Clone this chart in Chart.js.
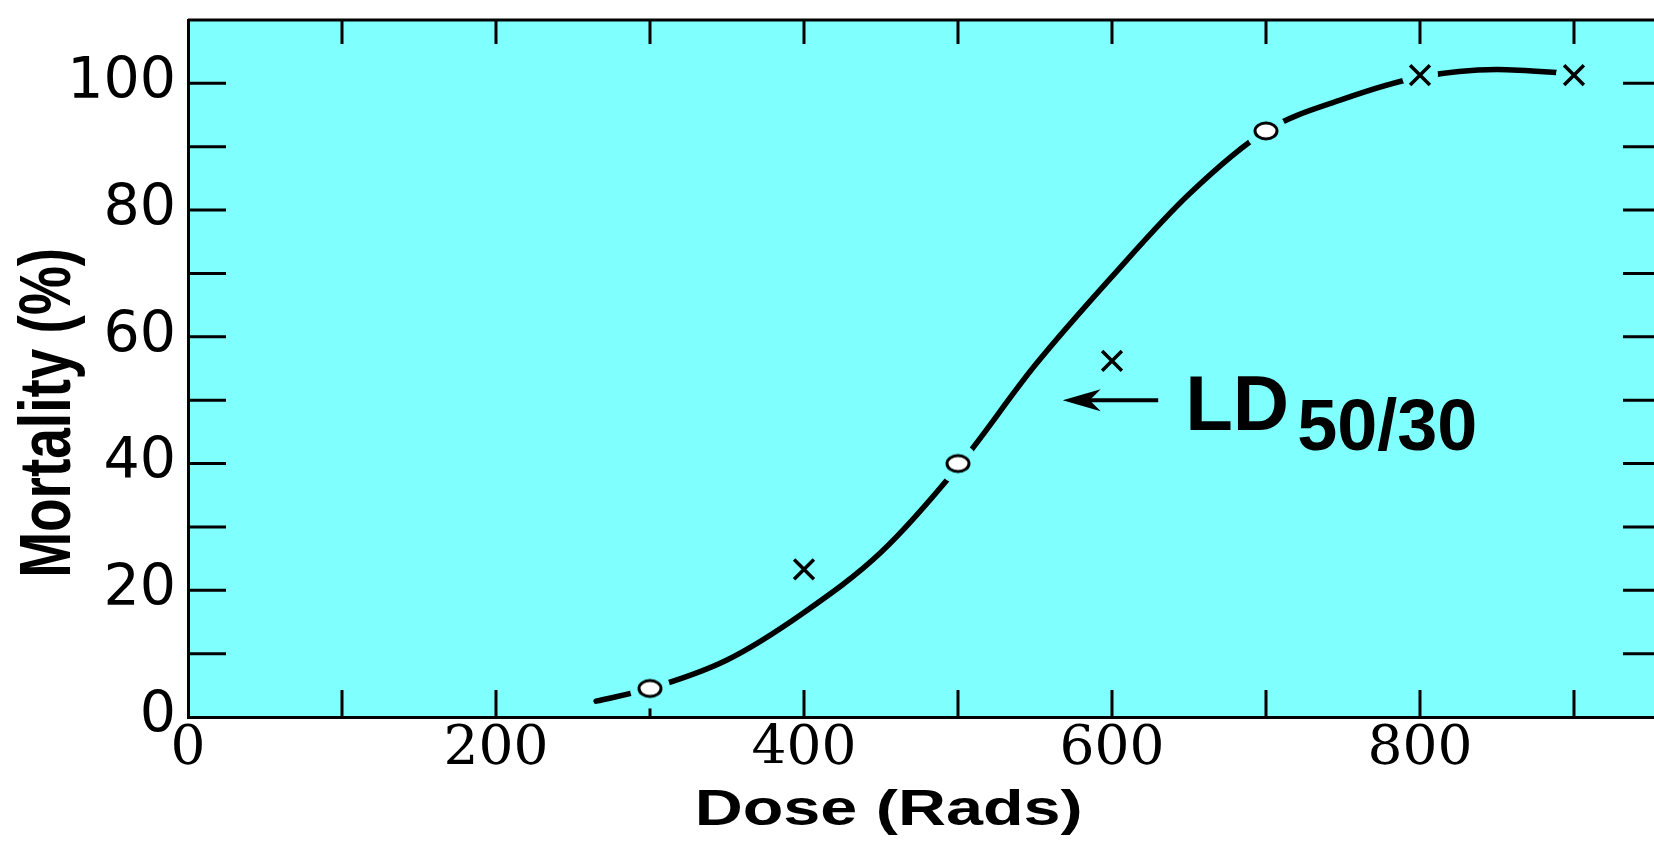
<!DOCTYPE html>
<html>
<head>
<meta charset="utf-8">
<title>Mortality vs Dose</title>
<script src="https://cdn.jsdelivr.net/npm/chart.js@4.4.1/dist/chart.umd.min.js"></script>
<style>
  html, body { margin: 0; padding: 0; background: #fff; width: 1654px; height: 842px; overflow: hidden; }
  canvas { display: block; }
</style>
</head>
<body>
<canvas id="chart" width="1700" height="842" style="width:1700px;height:842px"></canvas>
<script>
// Fitted dose-response curve (dose in rads, mortality in %)
const curveDose = [265, 300, 350, 400, 450, 500, 550, 600, 650, 700, 750, 800, 850, 900];
const curveMortality = [2.5, 4.5, 9, 16.5, 26, 39.5, 55.5, 69.5, 82.5, 92.5, 97.5, 101, 102.2, 101.5];

// Observed groups: open circles and crosses
const circleDose = [300, 500, 700];
const circleMortality = [4.5, 40, 92.5];
const crossDose = [400, 600, 800, 900];
const crossMortality = [23.3, 56.2, 101.3, 101.3];

// Axis setup
const DOSE_MAX = 956.5;
const MORTALITY_MAX = 110;
const doseLabelEvery = 200;
const mortalityLabelEvery = 20;

const xTitle = 'Dose (Rads)';
const yTitle = 'Mortality (%)';
const ldMain = 'LD';
const ldSub = '50/30';
const LD_ARROW = { tail: 630, tip: 568, level: 50 };

const PLOT_BG = '#80ffff';
const INK = '#000';

const toPoints = (xs, ys) => xs.map((v, i) => ({ x: v, y: ys[i] }));

// open ellipse marker used for the circle group
function ellipseMarker() {
  const c = document.createElement('canvas');
  c.width = 30; c.height = 24;
  const g = c.getContext('2d');
  g.beginPath();
  g.ellipse(15, 12, 11, 8, 0, 0, Math.PI * 2);
  g.fillStyle = '#fff';
  g.fill();
  g.lineWidth = 3;
  g.strokeStyle = INK;
  g.stroke();
  return c;
}

const plotBackground = {
  id: 'plotBackground',
  beforeDraw(chart) {
    const { ctx, chartArea: a } = chart;
    ctx.save();
    ctx.fillStyle = '#fff';
    ctx.fillRect(0, 0, chart.width, chart.height);
    ctx.fillStyle = PLOT_BG;
    ctx.fillRect(a.left, a.top, a.right - a.left, a.bottom - a.top);
    ctx.restore();
  }
};

// inward tick marks on all four sides, plus the top and right edges
const frameTicks = {
  id: 'frameTicks',
  beforeDatasetsDraw(chart) {
    const { ctx, chartArea: a, scales: { x, y } } = chart;
    ctx.save();
    ctx.strokeStyle = INK;
    ctx.lineWidth = 3;
    ctx.beginPath();
    ctx.moveTo(a.left, a.top);
    ctx.lineTo(a.right, a.top);
    ctx.lineTo(a.right, a.bottom);
    x.ticks.forEach(t => {
      if (t.value <= x.min || t.value >= x.max) return;
      const px = x.getPixelForValue(t.value);
      ctx.moveTo(px, a.bottom); ctx.lineTo(px, a.bottom - 27);
      ctx.moveTo(px, a.top); ctx.lineTo(px, a.top + 24);
    });
    y.ticks.forEach(t => {
      if (t.value <= y.min || t.value >= y.max) return;
      const py = y.getPixelForValue(t.value);
      ctx.moveTo(a.left, py); ctx.lineTo(a.left + 38, py);
      ctx.moveTo(a.right, py); ctx.lineTo(a.right - 38, py);
    });
    ctx.stroke();
    ctx.restore();
  }
};

const annotations = {
  id: 'annotations',
  afterDraw(chart) {
    const { ctx, scales: { x, y } } = chart;
    ctx.save();
    ctx.fillStyle = INK;
    ctx.strokeStyle = INK;

    // arrow pointing at the LD50 level
    const tipX = x.getPixelForValue(LD_ARROW.tip);
    const tailX = x.getPixelForValue(LD_ARROW.tail);
    const ay = y.getPixelForValue(LD_ARROW.level);
    ctx.lineWidth = 4;
    ctx.beginPath();
    ctx.moveTo(tailX, ay);
    ctx.lineTo(tipX + 12, ay);
    ctx.stroke();
    ctx.beginPath();
    ctx.moveTo(tipX, ay);
    ctx.lineTo(tipX + 38, ay - 11);
    ctx.lineTo(tipX + 27, ay);
    ctx.lineTo(tipX + 38, ay + 11);
    ctx.closePath();
    ctx.fill();

    // LD 50/30 label
    ctx.textAlign = 'left';
    ctx.textBaseline = 'alphabetic';
    ctx.font = 'bold 78px "Liberation Sans", Arial, sans-serif';
    const lx = tailX + 27;
    ctx.fillText(ldMain, lx, ay + 30);
    const w = ctx.measureText(ldMain).width;
    ctx.font = 'bold 72px "Liberation Sans", Arial, sans-serif';
    ctx.fillText(ldSub, lx + w + 8, ay + 50);

    // axis titles, widened
    ctx.textAlign = 'center';
    ctx.font = 'bold 50px "Liberation Sans", Arial, sans-serif';
    ctx.save();
    ctx.translate(x.getPixelForValue(455), x.bottom - 17);
    ctx.scale(1.33, 1);
    ctx.fillText(xTitle, 0, 0);
    ctx.restore();

    ctx.font = 'bold 55px "Liberation Sans", Arial, sans-serif';
    ctx.save();
    ctx.translate(70, y.getPixelForValue(48));
    ctx.scale(1.33, 1);
    ctx.rotate(-Math.PI / 2);
    ctx.fillText(yTitle, 0, 0);
    ctx.restore();

    ctx.restore();
  }
};

const circles = toPoints(circleDose, circleMortality);
const crosses = toPoints(crossDose, crossMortality);

new Chart(document.getElementById('chart'), {
  type: 'scatter',
  data: {
    datasets: [
      {
        label: 'circles',
        data: circles,
        pointStyle: ellipseMarker(),
        pointRadius: 12,
        order: 0
      },
      {
        label: 'crosses',
        data: crosses,
        pointStyle: 'crossRot',
        pointRadius: 14,
        borderColor: INK,
        borderWidth: 3.5,
        order: 0
      },
      {
        // background-coloured gaps where the curve meets a marker
        label: 'circle gaps',
        data: circles,
        pointStyle: 'circle',
        pointRadius: 20,
        backgroundColor: PLOT_BG,
        borderWidth: 0,
        order: 1
      },
      {
        label: 'cross gaps',
        data: crosses,
        pointStyle: 'circle',
        pointRadius: 18,
        backgroundColor: PLOT_BG,
        borderWidth: 0,
        order: 1
      },
      {
        label: 'fit',
        type: 'line',
        data: toPoints(curveDose, curveMortality),
        borderColor: INK,
        borderWidth: 5.5,
        pointRadius: 0,
        fill: false,
        cubicInterpolationMode: 'monotone',
        borderCapStyle: 'round',
        order: 2
      }
    ]
  },
  options: {
    responsive: false,
    animation: false,
    devicePixelRatio: 1,
    events: [],
    layout: { padding: { top: 13, right: 39, left: 0, bottom: 0 } },
    plugins: {
      legend: { display: false },
      tooltip: { enabled: false }
    },
    scales: {
      x: {
        type: 'linear',
        position: 'bottom',
        min: 0,
        max: DOSE_MAX,
        grid: { drawOnChartArea: false, drawTicks: false },
        border: { display: true, color: INK, width: 3 },
        ticks: {
          stepSize: 100,
          includeBounds: false,
          autoSkip: false,
          maxRotation: 0,
          padding: 0,
          color: INK,
          font: { family: '"DejaVu Serif", "Times New Roman", serif', size: 55 },
          callback: v => (v % doseLabelEvery === 0 ? String(v) : '')
        },
        afterFit(s) { s.height = 125; s.paddingLeft = 0; s.paddingRight = 0; }
      },
      y: {
        type: 'linear',
        position: 'left',
        min: 0,
        max: MORTALITY_MAX,
        grid: { drawOnChartArea: false, drawTicks: false },
        border: { display: true, color: INK, width: 3 },
        ticks: {
          stepSize: 10,
          autoSkip: false,
          padding: 12,
          color: INK,
          font: { family: '"DejaVu Sans", Arial, sans-serif', size: 57 },
          callback: v => (v % mortalityLabelEvery === 0 && v <= 100 ? String(v) : '')
        },
        afterFit(s) { s.width = 188; s.paddingTop = 0; s.paddingBottom = 0; }
      }
    }
  },
  plugins: [plotBackground, frameTicks, annotations]
});
</script>
</body>
</html>
